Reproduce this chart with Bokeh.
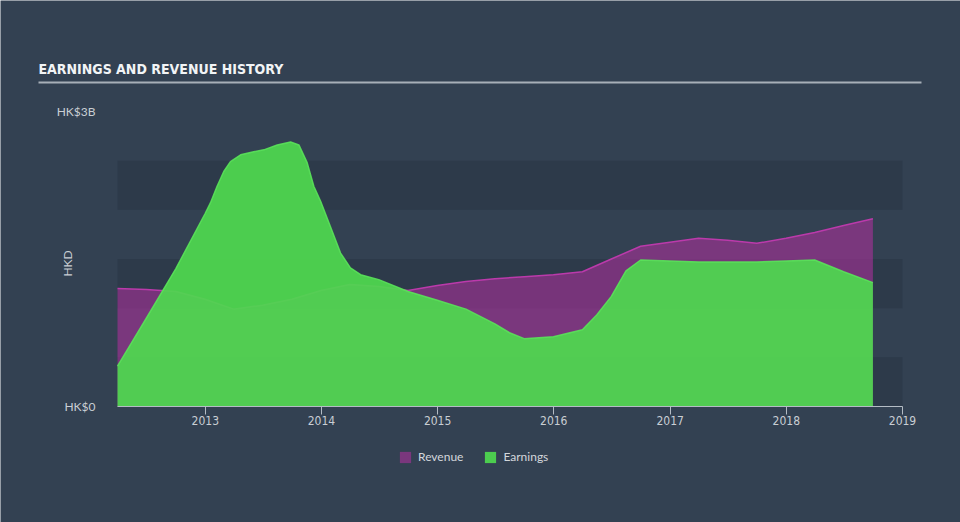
from datetime import datetime, timedelta
from math import pi
import pandas as pd
from bokeh.plotting import figure
from bokeh.models import (Range1d, FixedTicker, DatetimeTickFormatter, Legend,
                          LegendItem, Label, BoxAnnotation)
from bokeh.embed import file_html
from bokeh.resources import INLINE

# ---------------- data (HK$ billions) ----------------
title_text = "EARNINGS AND REVENUE HISTORY"
y_label = "HKD"

rev_dates = ["2012-03-31", "2012-06-30", "2012-09-30", "2012-12-31",
             "2013-03-31", "2013-06-30", "2013-09-30", "2013-12-31",
             "2014-03-31", "2014-06-30", "2014-09-30", "2014-12-31",
             "2015-03-31", "2015-06-30", "2015-09-30", "2015-12-31",
             "2016-03-31", "2016-06-30", "2016-09-30", "2016-12-31",
             "2017-03-31", "2017-06-30", "2017-09-30", "2017-12-31",
             "2018-03-31", "2018-06-30", "2018-09-30"]
revenue = [1.20, 1.19, 1.17, 1.09,
           0.99, 1.03, 1.09, 1.18,
           1.24, 1.22, 1.18, 1.23,
           1.27, 1.30, 1.32, 1.34,
           1.37, 1.50, 1.63, 1.67,
           1.71, 1.69, 1.66, 1.71,
           1.77, 1.84, 1.91]

earn_dates = ["2012-03-31", "2012-06-30", "2012-09-30", "2012-12-31",
              "2013-01-17", "2013-02-07", "2013-02-28", "2013-03-21",
              "2013-04-22", "2013-06-02", "2013-07-04", "2013-08-15",
              "2013-09-26", "2013-10-22", "2013-11-17", "2013-12-08",
              "2013-12-29", "2014-01-29", "2014-03-02", "2014-04-02",
              "2014-05-04", "2014-06-30", "2014-09-30", "2014-12-31",
              "2015-03-31", "2015-06-30", "2015-08-15", "2015-09-30",
              "2015-12-31", "2016-03-31", "2016-05-15", "2016-06-30",
              "2016-08-15", "2016-09-30", "2016-12-31", "2017-03-31",
              "2017-06-30", "2017-09-30", "2017-12-31", "2018-03-31",
              "2018-06-30", "2018-09-30"]
earnings = [0.41, 0.90, 1.40, 1.96,
            2.07, 2.24, 2.39, 2.49,
            2.56, 2.59, 2.61, 2.66,
            2.69, 2.66, 2.48, 2.24,
            2.09, 1.83, 1.56, 1.41,
            1.34, 1.29, 1.17, 1.08,
            0.99, 0.84, 0.75, 0.69,
            0.71, 0.78, 0.93, 1.12,
            1.38, 1.49, 1.48, 1.47,
            1.47, 1.47, 1.48, 1.49,
            1.37, 1.26]

x_tick_years = [2013, 2014, 2015, 2016, 2017, 2018, 2019]
y_ticks = [0, 3]
y_tick_labels = ["HK$0", "HK$3B"]
band_bottoms = [0.0, 1.0, 2.0]
band_height = 0.5

# ---------------- style ----------------
BG = "#334152"
BAND = "#2d3a4a"
REV_FILL = "#b0309f"
REV_LINE = "#bb3aab"
EARN_FILL = "#4fd84f"
EARN_LINE = "#5ae25a"
TEXT = "#c9ced4"
FONT = "Lato"
NARROW = "'DejaVu Sans Condensed', 'Liberation Sans Narrow', 'Liberation Sans', sans-serif"

W, H = 960, 522
# plot area in canvas pixels (left, right, top=3B, baseline=0)
PL, PR, PT, PB = 117, 902, 111, 406

def ms(d):
    return (d - datetime(1970, 1, 1)).total_seconds() * 1000.0

x_start = datetime(2012, 3, 31)
x_end = datetime(2019, 1, 1)
y_top = 3.0

# the frame covers the whole canvas; ranges are extended so that the chart
# area lands on the plot-area pixels above
px_per_day = (PR - PL) / (x_end - x_start).days
x_lo = x_start - timedelta(days=PL / px_per_day)
x_hi = x_start + timedelta(days=(W - PL) / px_per_day)
px_per_unit = (PB - PT) / y_top
y_lo = -(H - PB) / px_per_unit
y_hi = PB / px_per_unit

p = figure(width=W, height=H, x_axis_type="datetime",
           x_range=Range1d(x_lo, x_hi), y_range=Range1d(y_lo, y_hi),
           output_backend="svg", toolbar_location=None, min_border=0)
p.background_fill_color = BG
p.border_fill_color = BG
p.outline_line_color = None
p.grid.visible = False

# horizontal bands
p.quad(left=x_start, right=x_end, bottom=band_bottoms,
       top=[b + band_height for b in band_bottoms], fill_color=BAND, line_color=None)

rd = pd.to_datetime(rev_dates)
ed = pd.to_datetime(earn_dates)

rev_area = p.varea(x=rd, y1=0, y2=revenue, fill_color=REV_FILL, fill_alpha=0.57)
p.line(x=rd, y=revenue, line_color=REV_LINE, line_width=1.5)
earn_area = p.varea(x=ed, y1=0, y2=earnings, fill_color=EARN_FILL, fill_alpha=0.93)
p.line(x=ed, y=earnings, line_color=EARN_LINE, line_width=1.5, line_alpha=0.9,
       line_join="round")

# x axis, pinned at y = 0 and limited to the chart span
xa = p.xaxis[0]
xa.fixed_location = 0
xa.bounds = (x_start, x_end)
xa.ticker = FixedTicker(ticks=[ms(datetime(y, 1, 1)) for y in x_tick_years])
fmt = "%Y"
xa.formatter = DatetimeTickFormatter(years=fmt, months=fmt, days=fmt, hours=fmt,
                                     minutes=fmt, seconds=fmt, milliseconds=fmt,
                                     microseconds=fmt, minsec=fmt, hourmin=fmt)
xa.axis_line_color = "#b4bcc5"
xa.major_tick_line_color = "#b4bcc5"
xa.major_tick_in = 0
xa.major_tick_out = 8
xa.minor_tick_line_color = None
xa.major_label_standoff = 1
xa.major_label_text_color = TEXT
xa.major_label_text_font = NARROW
xa.major_label_text_font_size = "12px"

# y axis, pinned at the chart's left edge
ya = p.yaxis[0]
ya.fixed_location = ms(x_start)
ya.ticker = FixedTicker(ticks=y_ticks)
ya.major_label_overrides = {t: l for t, l in zip(y_ticks, y_tick_labels)}
ya.axis_line_color = None
ya.major_tick_line_color = None
ya.minor_tick_line_color = None
ya.major_label_standoff = 16
ya.major_label_text_color = TEXT
ya.major_label_text_font = FONT
ya.major_label_text_font_size = "12px"

# HKD axis title (screen units: from the frame's bottom-left)
p.add_layout(Label(x=67, y=H - 263, x_units="screen", y_units="screen", text=y_label,
                   angle=pi / 2, text_align="center", text_baseline="middle",
                   text_color=TEXT, text_font=FONT, text_font_size="12px"))

# chart title and rule under it
p.add_layout(Label(x=38, y=H - 68, x_units="screen", y_units="screen", text=title_text,
                   text_align="left", text_baseline="middle", text_color="#f2f4f6",
                   text_font=NARROW, text_font_style="bold", text_font_size="14px"))
p.add_layout(BoxAnnotation(left=38, right=921, top=H - 81, bottom=H - 83,
                           left_units="screen", right_units="screen",
                           top_units="screen", bottom_units="screen",
                           fill_color="#a7afb8", fill_alpha=1.0, line_color=None))

legend = Legend(items=[LegendItem(label="Revenue", renderers=[rev_area]),
                       LegendItem(label="Earnings", renderers=[earn_area])],
                orientation="horizontal", location=(398, H - 464),
                glyph_width=14, glyph_height=14, label_standoff=6, spacing=20,
                padding=5, margin=0, border_line_color=None,
                background_fill_alpha=0, label_text_color="#d3d7dc",
                label_text_font=FONT, label_text_font_size="12px")
p.add_layout(legend, "center")

open("out.html", "w").write(file_html(p, INLINE))
